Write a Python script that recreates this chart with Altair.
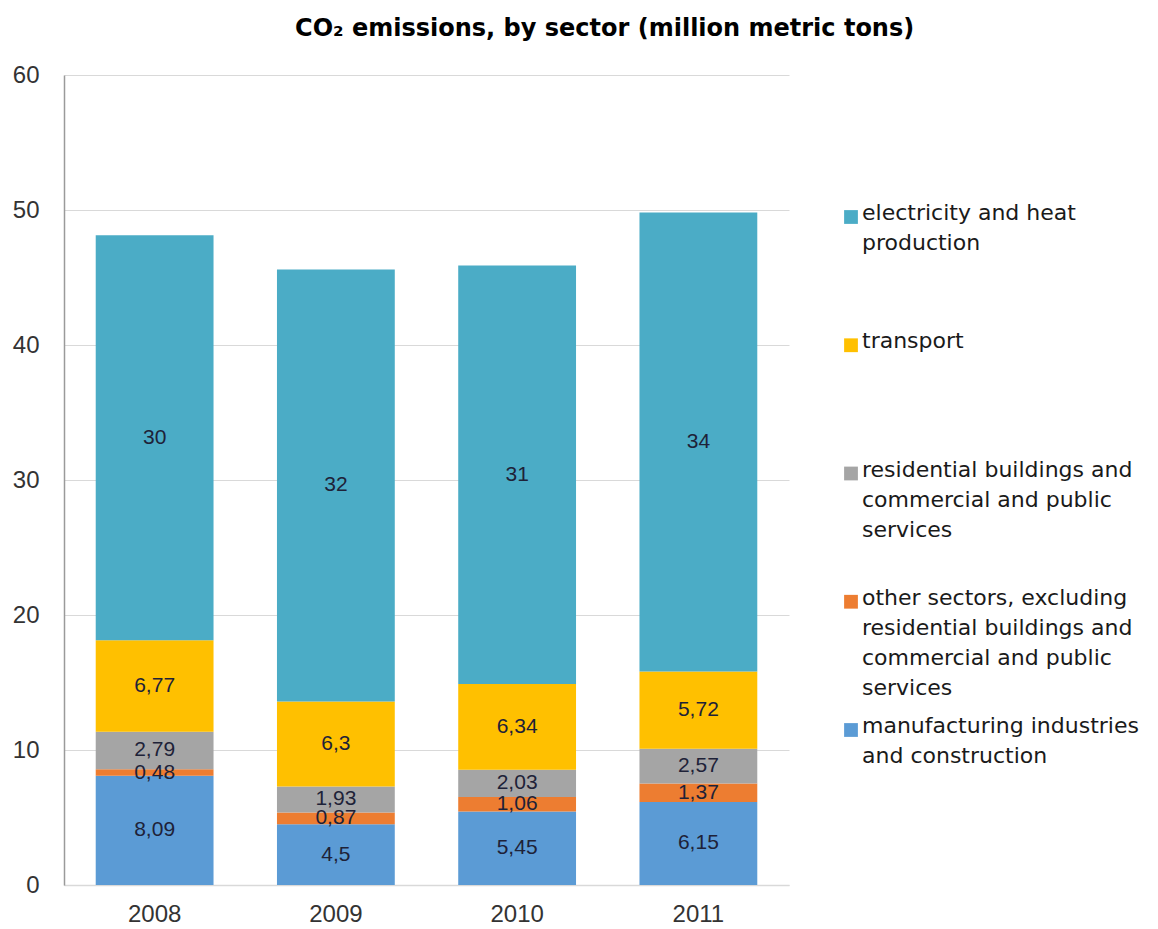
import altair as alt
import pandas as pd

years = ["2008", "2009", "2010", "2011"]
sectors = [
    "manufacturing industries and construction",
    "other sectors, excluding residential buildings and commercial and public services",
    "residential buildings and commercial and public services",
    "transport",
    "electricity and heat production",
]
legend_text = [
    "manufacturing industries\nand construction",
    "other sectors, excluding\nresidential buildings and\ncommercial and public\nservices",
    "residential buildings and\ncommercial and public\nservices",
    "transport",
    "electricity and heat\nproduction",
]
manufacturing = [8.09, 4.5, 5.45, 6.15]
other = [0.48, 0.87, 1.06, 1.37]
residential = [2.79, 1.93, 2.03, 2.57]
transport = [6.77, 6.3, 6.34, 5.72]
electricity = [30, 32, 31, 34]
colors = ["#5B9BD5", "#ED7D31", "#A5A5A5", "#FFC000", "#4BACC6"]

series = [manufacturing, other, residential, transport, electricity]
rows = []
for k, (s, vals) in enumerate(zip(sectors, series)):
    for y, v in zip(years, vals):
        rows.append({"year": y, "sector": s, "k": k, "value": v})
df = pd.DataFrame(rows)

leg = pd.DataFrame({"sector": sectors, "label": legend_text, "k": list(range(5))})

FONT = "Liberation Sans"
LFONT = "DejaVu Sans"
color_scale = alt.Scale(domain=sectors, range=colors)

base = alt.Chart(df).transform_stack(
    stack="value", groupby=["year"], as_=["y0", "y1"], sort=[alt.SortField("k")]
).transform_calculate(
    mid="(datum.y0 + datum.y1) / 2",
    lab="replace(toString(datum.value), '.', ',')",
)

xenc = alt.X(
    "year:N",
    sort=years,
    title=None,
    scale=alt.Scale(paddingInner=0.35, paddingOuter=0.175),
    axis=alt.Axis(labelAngle=0, labelFontSize=24, labelColor="#333333", labelPadding=17,
                  labelFont=FONT, ticks=False, domainColor="#D9D9D9", domainWidth=1.5, grid=False),
)

bars = base.mark_bar().encode(
    x=xenc,
    y=alt.Y("y0:Q", title=None, scale=alt.Scale(domain=[0, 60]),
            axis=alt.Axis(values=[0, 10, 20, 30, 40, 50, 60], labelFontSize=24, labelColor="#333333",
                          labelFont=FONT, labelPadding=25, ticks=False, domainColor="#9A9A9A",
                          domainWidth=1.5, gridColor="#D9D9D9", gridWidth=1.2)),
    y2="y1:Q",
    color=alt.Color("sector:N", scale=color_scale, legend=None),
)

texts = base.mark_text(fontSize=21, color="#1E2238", font=FONT).encode(
    x=alt.X("year:N", sort=years),
    y=alt.Y("mid:Q"),
    text="lab:N",
)

main = alt.layer(bars, texts).properties(width=725, height=810)

ys = alt.Y("sector:N", axis=None,
           scale=alt.Scale(type="point", domain=sectors[::-1], range=[142, 655], padding=0))

leg_sq = alt.Chart(leg).mark_square(size=190, opacity=1).encode(
    x=alt.value(52),
    y=ys,
    color=alt.Color("sector:N", scale=color_scale, legend=None),
)
leg_tx = alt.Chart(leg).mark_text(
    align="left", baseline="top", dy=-14, fontSize=22, lineHeight=30, lineBreak="\n",
    color="#1a1a1a", font=LFONT,
).encode(
    x=alt.value(63),
    y=ys,
    text="label:N",
)
legend = alt.layer(leg_sq, leg_tx).properties(width=300, height=810)

chart = alt.hconcat(main, legend, spacing=10).properties(
    title=alt.TitleParams("CO₂ emissions, by sector (million metric tons)", fontSize=24,
                          fontWeight="bold", font=LFONT, anchor="middle", color="#000000",
                          offset=22, dx=29),
    padding={"left": 12, "top": 17, "right": 5, "bottom": 5},
).configure(font=FONT).configure_view(stroke=None)

chart.save("out.html", embed_options={"renderer": "svg", "actions": False})
